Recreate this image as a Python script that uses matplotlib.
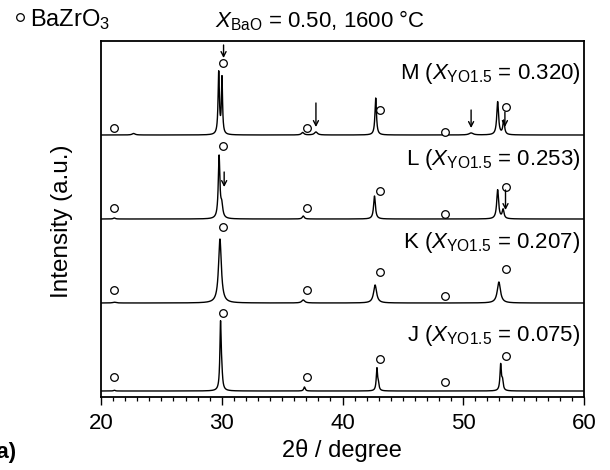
import numpy as np
import matplotlib
matplotlib.use("Agg")
import matplotlib.pyplot as plt
from matplotlib.lines import Line2D

plt.rcParams["font.family"] = ["Liberation Sans", "DejaVu Sans"]
plt.rcParams["mathtext.fontset"] = "custom"
plt.rcParams["mathtext.rm"] = "Liberation Sans"
plt.rcParams["mathtext.it"] = "Liberation Sans:italic"

# peak tables: (2theta, height, fwhm) for each sample
samples = ["J", "K", "L", "M"]
x_yo15 = ["0.075", "0.207", "0.253", "0.320"]
offsets = [6, 94, 178, 262]
peaks = {
    "J": [(21.1, 0.8, 0.15), (29.9, 66, 0.13), (30.0, 12, 0.15), (36.85, 4, 0.15),
          (42.85, 22, 0.13), (42.97, 6, 0.13), (53.1, 26, 0.14), (53.25, 9, 0.14)],
    "K": [(21.1, 0.8, 0.3), (29.85, 64, 0.28), (36.75, 3, 0.3),
          (42.7, 18, 0.3), (52.95, 21, 0.32)],
    "L": [(21.1, 1.0, 0.2), (29.78, 62, 0.16), (30.0, 12, 0.2), (36.75, 3, 0.2),
          (42.65, 23, 0.18), (52.85, 29, 0.19), (53.3, 9, 0.18)],
    "M": [(22.7, 1.5, 0.3), (29.75, 62, 0.13), (30.02, 56, 0.11), (36.7, 2.5, 0.25),
          (37.8, 3, 0.3), (42.75, 37, 0.15), (50.65, 2, 0.4), (52.85, 33, 0.18),
          (53.35, 14, 0.17)],
}

# BaZrO3 reflections (open circles): 2theta and height above each baseline
bzo_pos = [21.1, 30.1, 37.1, 43.1, 48.5, 53.5]
bzo_height = {
    "J": [14, 78, 14, 32, 9, 35],
    "K": [13, 76, 13, 31, 7, 34],
    "L": [11, 73, 11, 28, 5, 32],
    "M": [7, 72, 7, 25, 3, 28],
}

# second-phase reflections (arrows): (2theta, tail height, head height)
arrows = {
    "L": [(30.2, 47, 32), (53.5, 29, 9)],
    "M": [(30.15, 90, 77), (37.8, 32, 8), (50.65, 25, 7), (53.45, 23, 8)],
}

label_y = [61, 155, 238, 323]


def pattern(x, table):
    y = np.zeros_like(x)
    for pos, h, w in table:
        g = w / 2
        y += h * g**2 / ((x - pos) ** 2 + g**2)
    return y


fig = plt.figure(figsize=(6.1, 4.7), dpi=100)
ax = fig.add_axes([101 / 610, 1 - 397 / 470, 483 / 610, 356 / 470])

tt = np.linspace(20, 60, 4001)
for name, comp, off, ly in zip(samples, x_yo15, offsets, label_y):
    ax.plot(tt, off + pattern(tt, peaks[name]), color="black", lw=1.0)
    ax.plot(bzo_pos, [off + h for h in bzo_height[name]], "o", mfc="white",
            mec="black", ms=5.5, mew=0.9, ls="none")
    for pos, tail, head in arrows.get(name, []):
        ax.annotate("", xy=(pos, off + head), xytext=(pos, off + tail),
                    arrowprops=dict(arrowstyle="->,head_length=0.35,head_width=0.18",
                                    color="black", lw=1.0, shrinkA=0, shrinkB=0))
    ax.text(59.7, ly, name + r" ($X_{\mathrm{YO1.5}}$ = " + comp + ")",
            ha="right", va="center", fontsize=16)

ax.set_xlim(20, 60)
ax.set_ylim(0, 356)
ax.set_yticks([])
ax.set_xticks(np.arange(20, 61, 10))
ax.set_xticks(np.arange(20, 61, 1), minor=True)
ax.tick_params(axis="x", which="major", direction="out", length=5.5, width=1.0,
               labelsize=16, pad=6)
ax.tick_params(axis="x", which="minor", direction="out", length=3, width=0.9)
for sp in ax.spines.values():
    sp.set_linewidth(1.3)

fig.text(342 / 610, 1 - 450 / 470, "2θ / degree", ha="center", va="center",
         fontsize=17)
fig.text(62 / 610, 1 - 221 / 470, "Intensity (a.u.)", rotation=90, ha="center",
         va="center", fontsize=17.5)
fig.text(215 / 610, 1 - 27 / 470, r"$X_{\mathrm{BaO}}$ = 0.50, 1600 °C",
         ha="left", va="baseline", fontsize=16)
fig.add_artist(Line2D([20 / 610], [1 - 17 / 470], marker="o", mfc="white",
                      mec="black", ms=5.5, mew=0.9, transform=fig.transFigure))
fig.text(30 / 610, 1 - 26 / 470, r"BaZrO$_3$", ha="left", va="baseline", fontsize=17)
fig.text(17 / 610, 1 - 458 / 470, "(a)", ha="right", va="baseline", fontsize=16,
         fontweight="bold")

fig.savefig("out.png", dpi=100)
